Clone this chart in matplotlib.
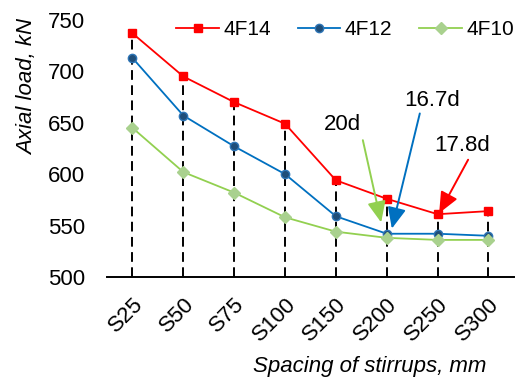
import matplotlib
matplotlib.use('Agg')
import matplotlib.pyplot as plt

plt.rcParams['font.family'] = ['Liberation Sans', 'DejaVu Sans']

categories = ['S25', 'S50', 'S75', 'S100', 'S150', 'S200', 'S250', 'S300']
f14 = [737, 695, 670, 649, 594, 576, 561, 564]
f12 = [713, 657, 627, 600, 559, 542, 542, 540]
f10 = [645, 602, 582, 558, 544, 538, 536, 536]

x = list(range(len(categories)))
fs = 16

fig = plt.figure(figsize=(5.17, 3.83), dpi=100)
ax = fig.add_axes([0.207, 0.277, 0.787, 0.671])

ax.vlines(x, 500, f14, colors='black', linestyles=(0, (5, 2.8)), linewidth=1.4, zorder=1)

ax.plot(x, f14, color='#FF0000', marker='s', markersize=6, markerfacecolor='#FF0000',
        markeredgecolor='#FF0000', linewidth=1.3, label='4F14', zorder=3)
ax.plot(x, f12, color='#0070C0', marker='o', markersize=6, markerfacecolor='#1F4E79',
        markeredgecolor='#2E75B6', linewidth=1.3, label='4F12', zorder=3)
ax.plot(x, f10, color='#92D050', marker='D', markersize=6, markerfacecolor='#A9D18E',
        markeredgecolor='#A9D18E', linewidth=1.3, label='4F10', zorder=3)

ax.set_xlim(-0.5, 7.5)
ax.set_ylim(500, 750)
ax.set_yticks([500, 550, 600, 650, 700, 750])
ax.set_xticks(x)
ax.set_xticklabels(categories, rotation=45, ha='right', rotation_mode='anchor')
ax.tick_params(axis='both', labelsize=fs, length=0)
ax.tick_params(axis='y', pad=16)
ax.tick_params(axis='x', pad=12)

for s in ['top', 'right', 'left']:
    ax.spines[s].set_visible(False)
ax.spines['bottom'].set_linewidth(1.4)

ax.set_ylabel('Axial load, kN', fontsize=fs, style='italic', va='center', ha='center')
ax.yaxis.set_label_coords(-0.194, 0.739)
ax.set_xlabel('Spacing of stirrups, mm', fontsize=fs, style='italic', va='center', ha='center')
ax.xaxis.set_label_coords(0.646, -0.35)

# arrows pointing at the S200 / S250 region
arrow = '-|>,head_length=0.8,head_width=0.35'
ax.annotate('', xy=(4.89, 553), xytext=(4.53, 633),
            arrowprops=dict(arrowstyle=arrow, color='#92D050', lw=1.4, mutation_scale=16,
                            shrinkA=0, shrinkB=0))
ax.annotate('', xy=(5.10, 547), xytext=(5.65, 659),
            arrowprops=dict(arrowstyle=arrow, color='#0070C0', lw=1.4, mutation_scale=16,
                            shrinkA=0, shrinkB=0))
ax.annotate('', xy=(6.03, 562), xytext=(6.6, 614),
            arrowprops=dict(arrowstyle=arrow, color='#FF0000', lw=1.4, mutation_scale=16,
                            shrinkA=0, shrinkB=0))
ax.text(4.12, 648, '20d', fontsize=fs, ha='center', va='center')
ax.text(5.89, 672, '16.7d', fontsize=fs, ha='center', va='center')
ax.text(6.48, 628, '17.8d', fontsize=fs, ha='center', va='center')

ax.legend(loc='center left', bbox_to_anchor=(0.17, 0.961), ncol=3, frameon=False,
          fontsize=15, handlelength=2.05, columnspacing=1.3, handletextpad=0.2,
          borderpad=0, borderaxespad=0)

fig.savefig('out.png', dpi=100)
